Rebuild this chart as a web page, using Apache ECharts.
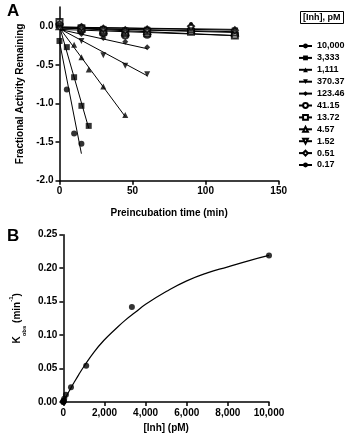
<!DOCTYPE html>
<html><head><meta charset="utf-8">
<script src="https://cdn.jsdelivr.net/npm/echarts@6/dist/echarts.min.js"></script>
<style>html,body{margin:0;padding:0;background:#fff}#c{width:346px;height:440px}</style>
</head><body><div id="c"></div>
<script>
// ---------- Panel A data ----------
const concLabels = ['10,000','3,333','1,111','370.37','123.46','41.15','13.72','4.57','1.52','0.51','0.17'];
const t_10000 = [0,5,10,15];            const y_10000 = [0,-0.82,-1.39,-1.52];
const t_3333  = [0,5,10,15,20];         const y_3333  = [-0.19,-0.27,-0.66,-1.03,-1.29];
const t_1111  = [0,10,15,20,30,45];     const y_1111  = [0,-0.24,-0.40,-0.56,-0.78,-1.15];
const t_370   = [0,15,30,45,60];        const y_370   = [0,-0.19,-0.375,-0.51,-0.62];
const t_123   = [0,15,30,45,60];        const y_123   = [0.01,-0.10,-0.15,-0.20,-0.27];
const t_slow  = [0,15,30,45,60,90,120];
const y_41    = [0.02,-0.05,-0.09,-0.12,-0.11,-0.06,-0.11];
const y_13    = [0.055,-0.03,-0.07,-0.09,-0.09,-0.07,-0.12];
const y_4     = [0.0,-0.03,-0.05,-0.07,-0.06,-0.04,-0.08];
const y_1     = [-0.01,-0.02,-0.04,-0.06,-0.05,-0.03,-0.06];
const y_05    = [0.03,-0.01,-0.03,-0.05,-0.04,0.0,-0.05];
const y_017   = [0.02,0.0,-0.02,-0.04,-0.03,0.03,-0.04];
// fitted lines: [start time, end time], [start value, end value]
const fitT_10000 = [0,15];  const fitY_10000 = [-0.2,-1.65];
const fitT_3333  = [0,20];  const fitY_3333  = [0.0,-1.32];
const fitT_1111  = [0,45];  const fitY_1111  = [-0.02,-1.17];
const fitT_370   = [0,60];  const fitY_370   = [-0.03,-0.64];
const fitT_123   = [0,60];  const fitY_123   = [-0.04,-0.29];
const fitT_slow  = [0,120];
const fitY_41 = [-0.04,-0.12]; const fitY_13 = [-0.02,-0.12]; const fitY_4 = [-0.02,-0.08];
const fitY_1  = [-0.02,-0.07]; const fitY_05 = [-0.01,-0.05]; const fitY_017 = [-0.01,-0.04];
const yTicksA = [-2,-1.5,-1,-0.5,0];
const xTicksA = [0,50,100,150];

// ---------- Panel B data ----------
const inhConc = [10000,3333,1111,370.37,123.46,41.15,13.72,4.57,1.52,0.51,0.17];
const kobs    = [0.219,0.142,0.054,0.022,0.011,0.005,0.002,0.001,0.0005,0.0002,0.0001];
const curveX  = [0,250,500,750,1000,1500,2000,2500,3000,3500,4000,5000,6000,7000,8000,9000,10000];
const curveY  = [0,0.0145,0.028,0.041,0.053,0.075,0.093,0.108,0.122,0.134,0.146,0.165,0.181,0.193,0.202,0.211,0.219];

const invTri = 'path://M0,0 L10,0 L5,10 Z';
const seriesDefs = [
  {t:t_10000,y:y_10000,ft:fitT_10000,fy:fitY_10000,sym:'circle',size:6},
  {t:t_3333,y:y_3333,ft:fitT_3333,fy:fitY_3333,sym:'rect',size:6},
  {t:t_1111,y:y_1111,ft:fitT_1111,fy:fitY_1111,sym:'triangle',size:6},
  {t:t_370,y:y_370,ft:fitT_370,fy:fitY_370,sym:invTri,size:6},
  {t:t_123,y:y_123,ft:fitT_123,fy:fitY_123,sym:'diamond',size:6},
  {t:t_slow,y:y_41,ft:fitT_slow,fy:fitY_41,sym:'emptyCircle',size:6},
  {t:t_slow,y:y_13,ft:fitT_slow,fy:fitY_13,sym:'emptyRect',size:6},
  {t:t_slow,y:y_4,ft:fitT_slow,fy:fitY_4,sym:'emptyTriangle',size:6},
  {t:t_slow,y:y_1,ft:fitT_slow,fy:fitY_1,sym:invTri,size:6,empty:true},
  {t:t_slow,y:y_05,ft:fitT_slow,fy:fitY_05,sym:'emptyDiamond',size:6},
  {t:t_slow,y:y_017,ft:fitT_slow,fy:fitY_017,sym:'circle',size:4}
];

const FONT = 'Liberation Sans';
const axisLineStyle = {color:'#000', width:1.5};
const labelStyle = {color:'#000', fontWeight:'bold', fontSize:10, fontFamily:FONT};
const nameStyle = {color:'#000', fontWeight:'bold', fontSize:10, fontFamily:FONT};

const series = [];
seriesDefs.forEach((d,i)=>{
  const itemStyle = d.empty ? {color:'#fff', borderColor:'#000', borderWidth:1} : {color:'#000'};
  series.push({
    type:'line', name:concLabels[i], xAxisIndex:0, yAxisIndex:0,
    data: d.ft.map((t,j)=>[t,d.fy[j]]),
    symbol:d.sym, symbolSize:d.size, showSymbol:false,
    lineStyle:{color:'#000', width:1}, itemStyle:itemStyle,
    silent:true, animation:false, z:2
  });
});
seriesDefs.forEach((d,i)=>{
  const itemStyle = d.empty ? {color:'#fff', borderColor:'#000', borderWidth:1} : {color:'#000'};
  series.push({
    type:'scatter', name:concLabels[i]+' data', xAxisIndex:0, yAxisIndex:0,
    data: d.t.map((t,j)=>[t,d.y[j]]),
    symbol:d.sym, symbolSize:d.size, itemStyle:itemStyle, animation:false, z:3
  });
});
series.push({
  type:'line', name:'fit', xAxisIndex:1, yAxisIndex:1,
  data: curveX.map((x,j)=>[x,curveY[j]]), smooth:true, showSymbol:false,
  lineStyle:{color:'#000', width:1.2}, animation:false
});
series.push({
  type:'scatter', name:'kobs', xAxisIndex:1, yAxisIndex:1,
  data: inhConc.map((x,j)=>[x,kobs[j]]), symbol:'circle', symbolSize:6,
  itemStyle:{color:'#000'}, animation:false
});

const chart = echarts.init(document.getElementById('c'), null, {renderer:'canvas'});
chart.setOption({
  backgroundColor:'#fff',
  animation:false,
  title:[
    {text:'A', left:2, top:-2, textStyle:{fontSize:17, fontWeight:'bold', fontFamily:FONT, color:'#000'}},
    {text:'B', left:2, top:223, textStyle:{fontSize:17, fontWeight:'bold', fontFamily:FONT, color:'#000'}},
    {text:'[Inh], pM', left:300, top:11, borderColor:'#000', borderWidth:1, padding:[2,3,2,3],
     textStyle:{fontSize:9, fontWeight:'bold', fontFamily:FONT, color:'#000'}}
  ],
  legend:{
    data:concLabels, orient:'vertical', left:298, top:41.5, padding:0,
    itemWidth:13, itemHeight:6, itemGap:2.9,
    textStyle:{fontSize:9, fontWeight:'bold', fontFamily:FONT, color:'#000', lineHeight:9, overflow:'none'},
    selectedMode:false
  },
  grid:[
    {left:59.5, top:7, width:219.2, height:173.7},
    {left:50, top:234.7, width:219, height:167.3}
  ],
  xAxis:[
    {gridIndex:0, type:'value', min:0, max:150, interval:50,
     name:'Preincubation time (min)', nameLocation:'middle', nameGap:28, nameTextStyle:nameStyle,
     axisLine:{onZero:false, lineStyle:axisLineStyle}, axisTick:{length:4, lineStyle:axisLineStyle},
     axisLabel:Object.assign({margin:6}, labelStyle), splitLine:{show:false}},
    {gridIndex:1, type:'value', min:0, max:10000, interval:2000,
     name:'[Inh] (pM)', nameLocation:'middle', nameGap:21, nameTextStyle:nameStyle,
     axisLine:{onZero:false, lineStyle:axisLineStyle}, axisTick:{length:4, lineStyle:axisLineStyle},
     axisLabel:Object.assign({margin:6, formatter:v=>v.toLocaleString('en-US')}, labelStyle), splitLine:{show:false}}
  ],
  yAxis:[
    {gridIndex:0, type:'value', min:-2, max:0.25, interval:0.5,
     name:'Fractional Activity Remaining', nameLocation:'middle', nameGap:32, nameTextStyle:nameStyle,
     axisLine:{onZero:false, lineStyle:axisLineStyle},
     axisTick:{length:4, lineStyle:axisLineStyle, customValues:yTicksA},
     axisLabel:Object.assign({margin:6, customValues:yTicksA, formatter:v=>v.toFixed(1)}, labelStyle),
     splitLine:{show:false}},
    {gridIndex:1, type:'value', min:0, max:0.25, interval:0.05,
     name:'{k|K}{sub|obs}{n| (min}{sup|-1}{n|)}', nameLocation:'middle', nameGap:36,
     nameTextStyle:{rich:{
       k:{fontSize:10, fontWeight:'bold', fontFamily:FONT, color:'#000', lineHeight:14, verticalAlign:'middle'},
       sub:{fontSize:6, fontWeight:'bold', fontFamily:FONT, color:'#000', lineHeight:14, verticalAlign:'bottom', padding:[0,0,-3,0]},
       n:{fontSize:10, fontWeight:'bold', fontFamily:FONT, color:'#000', lineHeight:14, verticalAlign:'middle'},
       sup:{fontSize:6, fontWeight:'bold', fontFamily:FONT, color:'#000', lineHeight:14, verticalAlign:'top', padding:[-2,0,0,0]}
     }},
     axisLine:{onZero:false, lineStyle:axisLineStyle}, axisTick:{length:4, lineStyle:axisLineStyle},
     axisLabel:Object.assign({margin:6, formatter:v=>v.toFixed(2)}, labelStyle), splitLine:{show:false}}
  ],
  series:series
});
</script></body></html>
